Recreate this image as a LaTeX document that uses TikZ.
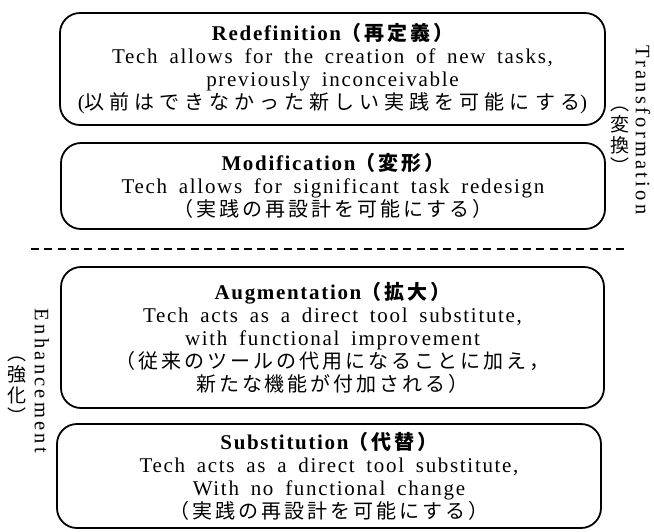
\documentclass[tikz,border=0pt]{standalone}
\usepackage{fontspec}
\setmainfont{Liberation Serif}[LetterSpace=8, WordSpace=1.7]
\newfontfamily\sidefam{Liberation Serif}[LetterSpace=16]
\newfontfamily\cjkfam{Noto Sans CJK JP}[LetterSpace=15]
\newfontfamily\cjkwide{Noto Sans CJK JP}[LetterSpace=25]
\newcommand\jp{\cjkfam\fontsize{20pt}{23pt}\selectfont}
\newcommand\jpw{\cjkwide\fontsize{20pt}{23pt}\selectfont}
\newcommand\boxfont{\fontsize{21pt}{23pt}\selectfont\lineskiplimit -20pt\relax}
\begin{document}
\begin{tikzpicture}[x=1pt,y=-1pt,
  levelbox/.style={draw, line width=1.8pt, rounded corners=20pt, align=center,
    inner sep=0pt, font=\boxfont},
  sidelabel/.style={rotate=-90, font=\sidefam\fontsize{20.5pt}{22pt}\selectfont, inner sep=0pt},
  sidejp/.style={align=center, inner sep=0pt, font=\cjkfam\fontsize{19pt}{21pt}\selectfont},
  dashline/.style={line width=1.5pt, dash pattern=on 8pt off 5.3pt}]
\useasboundingbox (0,0) rectangle (654,531);

\node[levelbox, minimum width=545pt, minimum height=112pt] (redef) at (332.5,69)
  {{\bfseries Redefinition{\jp （再定義）}}\\
   Tech allows for the creation of new tasks,\\
   previously inconceivable\\
   ({\jpw 以前はできなかった新しい実践を可能にする})};

\node[levelbox, minimum width=544pt, minimum height=86pt] (modif) at (333,186)
  {{\bfseries Modification{\jp （変形）}}\\
   Tech allows for significant task redesign\\
   {\jp （実践の再設計を可能にする）}};

\coordinate (dl) at (31,249);
\coordinate (dr) at (628,249);
\draw[dashline] (dl) -- (dr);

\node[levelbox, minimum width=543pt, minimum height=141pt] (augm) at (332.5,337.5)
  {{\bfseries Augmentation{\jp （拡大）}}\\
   Tech acts as a direct tool substitute,\\
   with functional improvement\\
   {\jp （従来のツールの代用になることに加え，}\\
   {\jp 新たな機能が付加される）}};

\node[levelbox, minimum width=544pt, minimum height=104pt] (subst) at (329,476)
  {{\bfseries Substitution{\jp （代替）}}\\
   Tech acts as a direct tool substitute,\\
   With no functional change\\
   {\jp （実践の再設計を可能にする）}};

\node[sidelabel] (trans) at (643,130) {Transformation};
\node[sidejp] (transjp) at (620,140) {︵\\変\\換\\︶};
\node[sidelabel] (enh) at (42,381) {Enhancement};
\node[sidejp] (enhjp) at (17,390) {︵\\強\\化\\︶};
\end{tikzpicture}
\end{document}
